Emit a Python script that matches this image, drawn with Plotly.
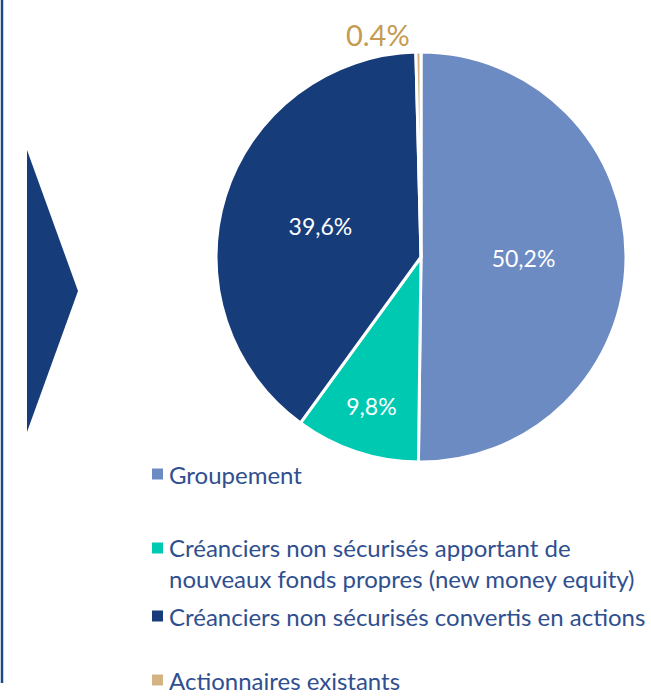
import plotly.graph_objects as go

W, H = 651, 697

labels = [
    "Groupement",
    "Créanciers non sécurisés apportant de<br>nouveaux fonds propres (new money equity)",
    "Créanciers non sécurisés convertis en actions",
    "Actionnaires existants",
]
values = [50.2, 9.8, 39.6, 0.4]
pct_text = ["50,2%", "9,8%", "39,6%", "0.4%"]
colors = ["#6C8BC3", "#00C9B2", "#173C7A", "#D4B483"]
text_positions = ["inside", "inside", "inside", "outside"]
legend_y_px = [474, 563, 616, 680]

FONT = "Lato"
TEXT_COL = "#2F4F8F"

def px(x):
    return x / W

def py(y):
    return 1 - y / H

fig = go.Figure()
fig.add_trace(go.Pie(
    labels=labels,
    values=values,
    text=pct_text,
    textinfo="text",
    textposition=text_positions,
    insidetextorientation="horizontal",
    insidetextfont=dict(family=FONT, size=23, color="white"),
    outsidetextfont=dict(family=FONT, size=29, color="#C49B52"),
    marker=dict(colors=colors, line=dict(color="white", width=3)),
    sort=False,
    direction="clockwise",
    rotation=0,
    domain=dict(x=[px(216), px(626)], y=[py(462), py(52)]),
    showlegend=False,
    hoverinfo="label+percent",
))

shapes = []
annotations = []
# manual legend
for lab, col, yc in zip(labels, colors, legend_y_px):
    two = "<br>" in lab
    sq_c = yc - 15 if two else yc
    shapes.append(dict(type="rect", xref="paper", yref="paper",
                       x0=px(152), x1=px(163), y0=py(sq_c + 5.5), y1=py(sq_c - 5.5),
                       fillcolor=col, line=dict(width=0)))
    annotations.append(dict(text=lab, xref="paper", yref="paper",
                            x=px(167), y=py(yc), xanchor="left", yanchor="middle",
                            align="left", showarrow=False,
                            font=dict(family=FONT, size=24, color=TEXT_COL)))

# decorative left bar and arrow
shapes.append(dict(type="line", xref="paper", yref="paper",
                   x0=px(2), x1=px(2), y0=py(0), y1=py(683),
                   line=dict(color="#1F4788", width=2.5)))
shapes.append(dict(type="path", xref="paper", yref="paper",
                   path=f"M {px(27)} {py(150)} L {px(78)} {py(291)} L {px(27)} {py(432)} Z",
                   fillcolor="#173C7A", line=dict(width=0)))

fig.update_layout(
    width=W, height=H,
    margin=dict(l=0, r=0, t=0, b=0),
    paper_bgcolor="white",
    plot_bgcolor="white",
    shapes=shapes,
    annotations=annotations,
    font=dict(family=FONT),
)

fig.write_html("out.html",
               config={"displayModeBar": False},
               post_script="document.body.style.margin='0';document.body.style.overflow='hidden';")
